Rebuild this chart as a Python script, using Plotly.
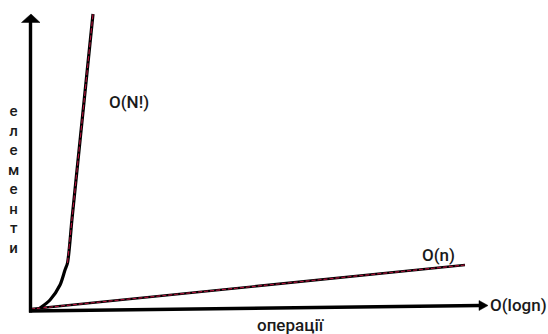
import plotly.graph_objects as go

# conceptual complexity curves (x: operations, y: elements)
fact_x = [10, 20, 30, 35, 37.5, 41.9, 46, 54.2, 63]
fact_y = [3, 11, 26, 41, 48, 91, 131, 211, 297]
fact_red_start = 4  # red overlay begins where the curve turns straight

lin_x = [1, 435]
lin_y = [2, 46]

x_axis_label = "операції"
y_axis_label = "елементи"
curve_labels = ["O(N!)", "O(n)", "O(logn)"]

BLACK = "#000000"
RED = "#b3123c"
FONT = "Roboto"
TXT = "#1a1a1a"

fig = go.Figure()

# O(n) line: black with red dashed overlay
fig.add_trace(go.Scatter(x=lin_x, y=lin_y, mode="lines",
                         line=dict(color=BLACK, width=2.6), hoverinfo="skip"))
fig.add_trace(go.Scatter(x=lin_x, y=lin_y, mode="lines",
                         line=dict(color=RED, width=1.1, dash="4px,2px"), hoverinfo="skip"))

# O(N!) curve
fig.add_trace(go.Scatter(x=fact_x, y=fact_y, mode="lines",
                         line=dict(color=BLACK, width=3.2, shape="spline", smoothing=0.8),
                         hoverinfo="skip"))
fig.add_trace(go.Scatter(x=fact_x[fact_red_start:], y=fact_y[fact_red_start:], mode="lines",
                         line=dict(color=RED, width=1.1, dash="5px,2px", shape="spline", smoothing=0.8),
                         hoverinfo="skip"))

shapes = [
    # y axis line + arrowhead
    dict(type="line", xref="x", yref="y", x0=0.5, y0=-1.5, x1=0.5, y1=290,
         line=dict(color=BLACK, width=3.4)),
    dict(type="path", xref="x", yref="y", path="M 1,297 L -8.5,288.5 L 10,288.5 Z",
         fillcolor=BLACK, line=dict(color=BLACK, width=0.5)),
    # x axis line + arrowhead (slightly tilted as in the drawing)
    dict(type="line", xref="x", yref="y", x0=-1, y0=0, x1=450, y1=5.5,
         line=dict(color=BLACK, width=3.4)),
    dict(type="path", xref="x", yref="y", path="M 458,5.5 L 449,10.5 L 449,0.5 Z",
         fillcolor=BLACK, line=dict(color=BLACK, width=0.5)),
]

lbl_font = dict(family=FONT, size=17, color=TXT, weight=500)
annotations = [
    dict(x=99, y=209, text=curve_labels[0], showarrow=False, xanchor="center", yanchor="middle",
         font=lbl_font),
    dict(x=408, y=56, text=curve_labels[1], showarrow=False, xanchor="center", yanchor="middle",
         font=lbl_font),
    dict(x=458, y=6, text=curve_labels[2], showarrow=False, xanchor="left", yanchor="middle",
         font=lbl_font),
    dict(x=261, y=-14, text=x_axis_label, showarrow=False, xanchor="center", yanchor="middle",
         font=lbl_font),
    dict(x=-17, y=132, text="<br>".join(list(y_axis_label)), showarrow=False,
         xanchor="center", yanchor="middle", align="center",
         font=dict(family=FONT, size=15, color=TXT, weight=500)),
]

fig.update_layout(
    width=548, height=334,
    margin=dict(l=0, r=0, t=0, b=0),
    paper_bgcolor="white", plot_bgcolor="white",
    showlegend=False,
    xaxis=dict(range=[-30, 518], visible=False, fixedrange=True),
    yaxis=dict(range=[-23, 311], visible=False, fixedrange=True),
    shapes=shapes,
    annotations=annotations,
)

fig.write_html("out.html", config={"displayModeBar": False},
               post_script="document.body.style.margin='0';document.body.style.overflow='hidden';")
